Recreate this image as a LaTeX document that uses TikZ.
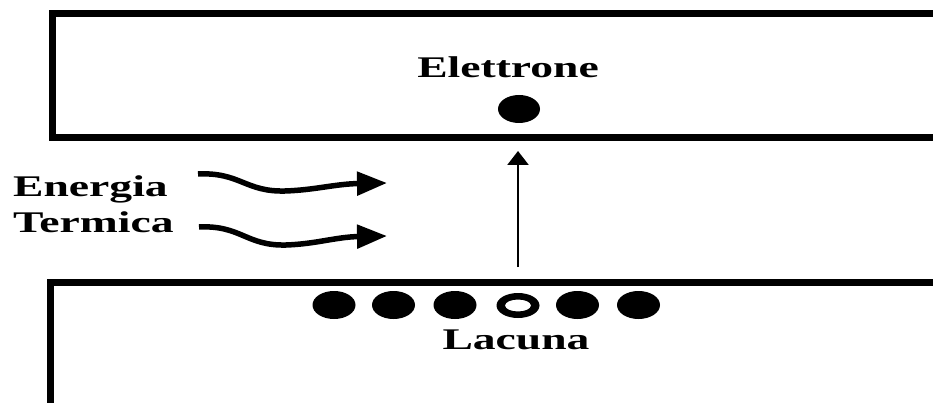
\documentclass[tikz,border=0pt]{standalone}
\usepackage{fontspec}
\usepackage{graphicx}
\setmainfont{Liberation Serif}
\usetikzlibrary{arrows.meta}
\tikzset{
  lbl/.style={inner sep=0pt, font=\fontsize{30}{30}\selectfont\bfseries},
  band/.style={line width=7pt, line join=miter},
  wave/.style={line width=5.5pt, -{Triangle[length=30pt,width=23pt]}},
  jump/.style={line width=2.5pt, -{Triangle[length=14pt,width=21pt]}},
  elec/.style={fill=black},
  hole/.style={fill=black, even odd rule}
}
\newcommand{\wide}[1]{\scalebox{1.52}[1]{#1}}
\begin{document}
\begin{tikzpicture}[x=1pt,y=-1pt]
\useasboundingbox (0,0) rectangle (933,403);
\clip (0,0) rectangle (933,403);
% bands
\draw[band] (945,13.5) -- (52,13.5) -- (52,138) -- (945,138);
\draw[band] (945,282) -- (50,282) -- (50,410);
% labels
\node[lbl, anchor=base] (el) at (508,78) {\wide{Elettrone}};
\node[lbl, anchor=base] (la) at (516,349) {\wide{Lacuna}};
\node[lbl, anchor=base west] (en) at (13,197) {\wide{Energia}};
\node[lbl, anchor=base west] (te) at (13,233) {\wide{Termica}};
% electron
\fill[elec] (519,109) ellipse [x radius=21, y radius=14];
% electrons in lower band
\foreach \x in {334,393.5,455,577.5,638.5}{
  \fill[elec] (\x,305) ellipse [x radius=21.5, y radius=14];
}
\fill[hole] (518,305.5) ellipse [x radius=21.5, y radius=12.5]
  (518,305.5) ellipse [x radius=13, y radius=6];
% vertical transition arrow
\coordinate (js) at (518,267);
\coordinate (je) at (518,151);
\draw[jump] (js) -- (je);
% thermal energy waves
\coordinate (w1s) at (198,174);
\coordinate (w1e) at (387,183);
\coordinate (w2s) at (199,227);
\coordinate (w2e) at (387,236);
\draw[wave] (w1s) .. controls (240,172) and (245,192) .. (285,191)
  .. controls (315,190) and (335,184) .. (w1e);
\draw[wave] (w2s) .. controls (241,225) and (246,246) .. (286,245)
  .. controls (316,244) and (336,237) .. (w2e);
\end{tikzpicture}
\end{document}
